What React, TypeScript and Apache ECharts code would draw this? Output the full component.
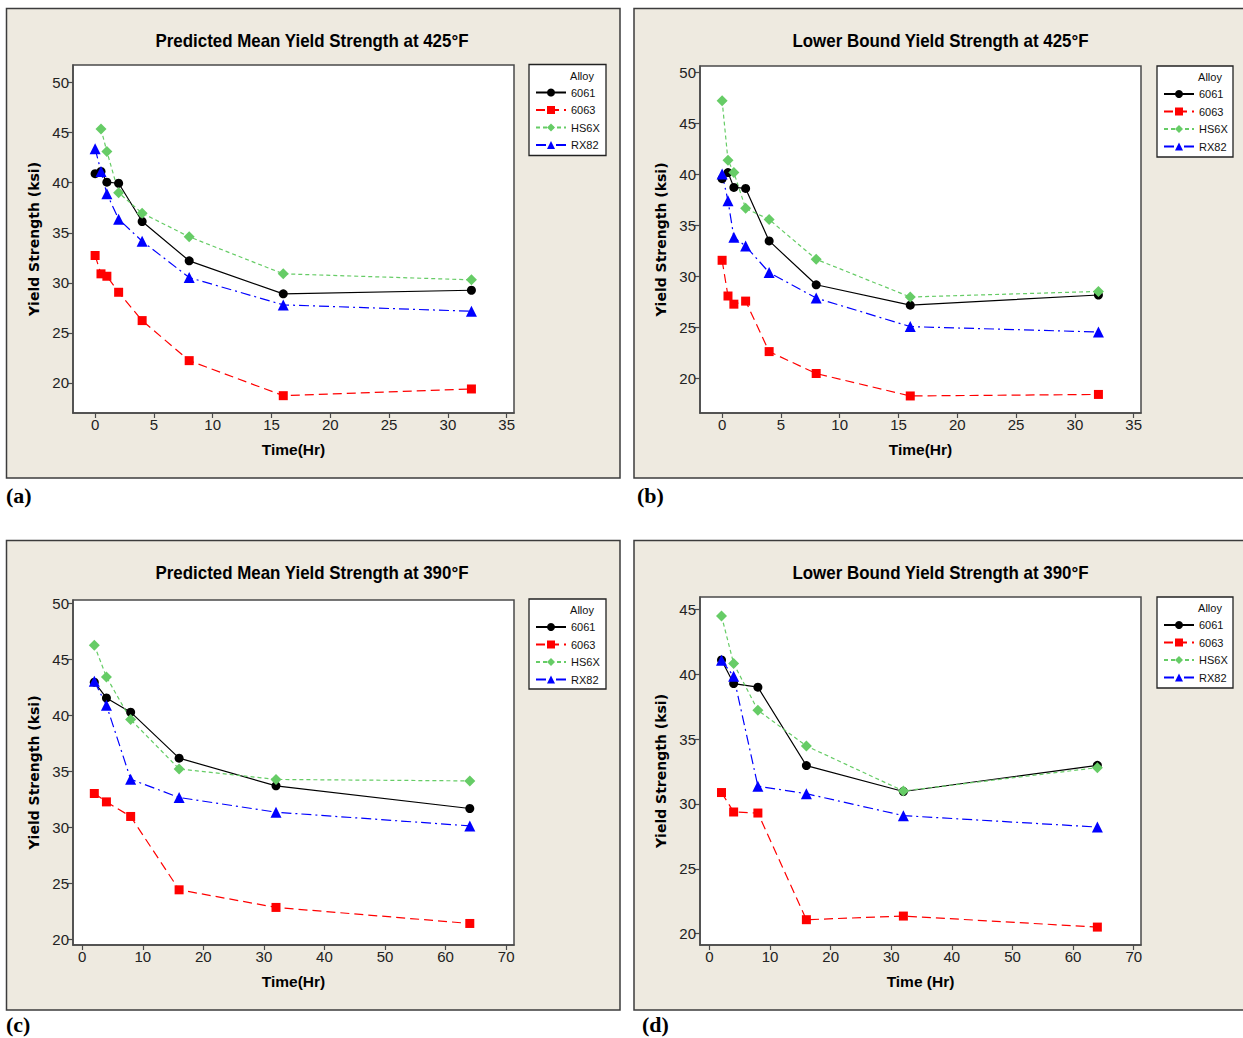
import React, { useEffect, useRef } from "react";
import * as echarts from "echarts";

const alloys = ["6061", "6063", "HS6X", "RX82"];
const colors = ["#000000", "#FF0000", "#66CC66", "#0000FF"];
const symbols = ["circle", "rect", "diamond", "triangle"];
const symbolSizes = [9, 9, 11, 11];
const dashes: any[] = ["solid", [9, 5], [4, 3], [10, 4, 2, 4]];

// Panel (a): Predicted Mean Yield Strength at 425°F
const timeA = [0, 0.5, 1, 2, 4, 8, 16, 32];
const a6061 = [40.9, 41.13, 40.06, 39.95, 36.13, 32.2, 28.9, 29.26];
const a6063 = [32.73, 30.9, 30.66, 29.06, 26.23, 22.23, 18.73, 19.4];
const aHS6X = [null, 45.36, 43.13, 39.0, 36.96, 34.6, 30.9, 30.3];
const aRX82 = [43.4, 41.13, 38.9, 36.36, 34.16, 30.53, 27.8, 27.16];

// Panel (b): Lower Bound Yield Strength at 425°F
const timeB = [0, 0.5, 1, 2, 4, 8, 16, 32];
const b6061 = [39.6, 40.2, 38.75, 38.65, 33.5, 29.2, 27.2, 28.2];
const b6063 = [31.6, 28.1, 27.3, 27.6, 22.65, 20.5, 18.3, 18.45];
const bHS6X = [47.25, 41.4, 40.2, 36.7, 35.6, 31.7, 28.0, 28.55];
const bRX82 = [40.05, 37.45, 33.85, 33.0, 30.4, 27.9, 25.1, 24.57];

// Panel (c): Predicted Mean Yield Strength at 390°F
const timeC = [2, 4, 8, 16, 32, 64];
const c6061 = [42.96, 41.56, 40.29, 36.19, 33.72, 31.7];
const c6063 = [33.04, 32.29, 30.99, 24.45, 22.88, 21.45];
const cHS6X = [46.26, 43.43, 39.63, 35.23, 34.29, 34.16];
const cRX82 = [43.05, 40.91, 34.31, 32.68, 31.37, 30.15];

// Panel (d): Lower Bound Yield Strength at 390°F
const timeD = [2, 4, 8, 16, 32, 64];
const d6061 = [41.1, 39.28, 39.0, 32.96, 30.96, 32.98];
const d6063 = [30.88, 29.38, 29.3, 21.08, 21.36, 20.51];
const dHS6X = [44.49, 40.82, 37.22, 34.47, 31.0, 32.8];
const dRX82 = [41.07, 39.84, 31.37, 30.79, 29.1, 28.22];

// Tick labels
const xTicks425 = [0, 5, 10, 15, 20, 25, 30, 35];
const xTicks390 = [0, 10, 20, 30, 40, 50, 60, 70];
const yTicks50 = [20, 25, 30, 35, 40, 45, 50];
const yTicks45 = [20, 25, 30, 35, 40, 45];

const FONT_N = '"Liberation Sans", Arial, sans-serif';
const FONT_V = '"DejaVu Sans", Verdana, sans-serif';
const FONT_S = '"Liberation Serif", "Times New Roman", serif';

const panels = [
  {
    title: "Predicted Mean Yield Strength at 425°F", xName: "Time(Hr)", label: "(a)",
    time: timeA, values: [a6061, a6063, aHS6X, aRX82], xTicks: xTicks425, yTicks: yTicks50,
    box: [6.5, 8.5, 613.5, 469.5], grid: [73, 65, 441, 348],
    xRange: [-1.88, 35.62], yRange: [17.0, 51.76],
    titlePos: [312, 41], legendBox: [529, 64.5, 77, 91], labelPos: [6, 495],
  },
  {
    title: "Lower Bound Yield Strength at 425°F", xName: "Time(Hr)", label: "(b)",
    time: timeB, values: [b6061, b6063, bHS6X, bRX82], xTicks: xTicks425, yTicks: yTicks50,
    box: [634, 8.5, 640, 469.5], grid: [700, 66, 441, 347],
    xRange: [-1.88, 35.62], yRange: [16.63, 50.65],
    titlePos: [940.5, 41], legendBox: [1157, 66, 76, 91], labelPos: [637, 495],
  },
  {
    title: "Predicted Mean Yield Strength at 390°F", xName: "Time(Hr)", label: "(c)",
    time: timeC, values: [c6061, c6063, cHS6X, cRX82], xTicks: xTicks390, yTicks: yTicks50,
    box: [6.5, 540.5, 613.5, 469.5], grid: [73, 600, 441, 345],
    xRange: [-1.52, 71.3], yRange: [19.53, 50.29],
    titlePos: [312, 573], legendBox: [529, 599, 77, 90], labelPos: [6, 1024],
  },
  {
    title: "Lower Bound Yield Strength at 390°F", xName: "Time (Hr)", label: "(d)",
    time: timeD, values: [d6061, d6063, dHS6X, dRX82], xTicks: xTicks390, yTicks: yTicks45,
    box: [634, 540.5, 640, 469.5], grid: [700, 597, 441, 348],
    xRange: [-1.55, 71.2], yRange: [19.13, 45.95],
    titlePos: [940.5, 573], legendBox: [1157, 597, 76, 91], labelPos: [642, 1024],
  },
];

function buildOption() {
  const grid: any[] = [];
  const xAxis: any[] = [];
  const yAxis: any[] = [];
  const series: any[] = [];
  const legend: any[] = [];
  const graphic: any[] = [];
  const axisColor = "#4a4a4a";

  panels.forEach((p, i) => {
    const [bx, by, bw, bh] = p.box;
    graphic.push({
      type: "rect", z: -10, silent: true,
      shape: { x: bx, y: by, width: bw, height: bh },
      style: { fill: "#EEEAE0", stroke: "#3c3c3c", lineWidth: 1.5 },
    });
    graphic.push({
      type: "text", z: 10, x: p.titlePos[0], y: p.titlePos[1], scaleX: 0.94,
      style: {
        text: p.title, textAlign: "center", textVerticalAlign: "middle",
        fontFamily: FONT_N, fontWeight: "bold", fontSize: 18, fill: "#000",
      },
    });
    graphic.push({
      type: "text", z: 10, x: p.labelPos[0], y: p.labelPos[1],
      style: {
        text: p.label, textAlign: "left", textVerticalAlign: "middle",
        fontFamily: FONT_S, fontWeight: "bold", fontSize: 22, fill: "#000",
      },
    });
    const [lx, ly, lw, lh] = p.legendBox;
    graphic.push({
      type: "rect", z: 1, silent: true,
      shape: { x: lx, y: ly, width: lw, height: lh },
      style: { fill: "#FFFFFF", stroke: "#222", lineWidth: 1.3 },
    });
    graphic.push({
      type: "text", z: 10, x: lx + 53, y: ly + 11,
      style: {
        text: "Alloy", textAlign: "center", textVerticalAlign: "middle",
        fontFamily: FONT_N, fontSize: 11, fill: "#111",
      },
    });

    const [gl, gt, gw, gh] = p.grid;
    grid.push({
      left: gl, top: gt, width: gw, height: gh, show: true,
      backgroundColor: "#FFFFFF", borderColor: axisColor, borderWidth: 1.5,
    });
    xAxis.push({
      type: "value", gridIndex: i, min: p.xRange[0], max: p.xRange[1],
      name: p.xName, nameLocation: "middle", nameGap: 28,
      nameTextStyle: { fontFamily: FONT_N, fontWeight: "bold", fontSize: 15.5, color: "#000" },
      axisLine: { show: true, onZero: false, lineStyle: { color: axisColor, width: 1.5 } },
      axisTick: { show: true, length: 5, customValues: p.xTicks, lineStyle: { color: axisColor, width: 1.2 } },
      axisLabel: { customValues: p.xTicks, margin: 4, fontFamily: FONT_N, fontSize: 15, color: "#222" },
      splitLine: { show: false },
    });
    yAxis.push({
      type: "value", gridIndex: i, min: p.yRange[0], max: p.yRange[1],
      name: "Yield Strength (ksi)", nameLocation: "middle", nameGap: 32,
      nameTextStyle: { fontFamily: FONT_V, fontWeight: "bold", fontSize: 14, color: "#000" },
      axisLine: { show: true, onZero: false, lineStyle: { color: axisColor, width: 1.5 } },
      axisTick: { show: true, length: 5, customValues: p.yTicks, lineStyle: { color: axisColor, width: 1.2 } },
      axisLabel: { customValues: p.yTicks, margin: 4, fontFamily: FONT_N, fontSize: 15, color: "#222" },
      splitLine: { show: false },
    });
    alloys.forEach((name, k) => {
      const vals = p.values[k];
      const data: any[] = [];
      p.time.forEach((t, j) => {
        if (vals[j] !== null && vals[j] !== undefined) data.push([t, vals[j]]);
      });
      series.push({
        type: "line", name, xAxisIndex: i, yAxisIndex: i, data,
        symbol: symbols[k], symbolSize: symbolSizes[k], showSymbol: true,
        itemStyle: { color: colors[k], borderWidth: 0 },
        lineStyle: { color: colors[k], width: 1.2, type: dashes[k] },
        emphasis: { disabled: true },
      });
    });
    legend.push({
      data: alloys, orient: "vertical", left: lx + 6, top: ly + 22,
      itemWidth: 30, itemHeight: 10, itemGap: 5.5, padding: 0, selectedMode: false,
      textStyle: { fontFamily: FONT_N, fontSize: 11, color: "#111", lineHeight: 12 },
      z: 5,
    });
  });

  return {
    animation: false,
    backgroundColor: "#FFFFFF",
    grid, xAxis, yAxis, series, legend, graphic,
  };
}

export default function App() {
  const ref = useRef<HTMLDivElement>(null);
  useEffect(() => {
    if (!ref.current) return;
    const chart = echarts.init(ref.current, undefined, { renderer: "svg" });
    chart.setOption(buildOption() as any);
    return () => chart.dispose();
  }, []);
  return (
    <div
      ref={ref}
      style={{ position: "absolute", left: 0, top: 0, width: 1243, height: 1038 }}
    />
  );
}
